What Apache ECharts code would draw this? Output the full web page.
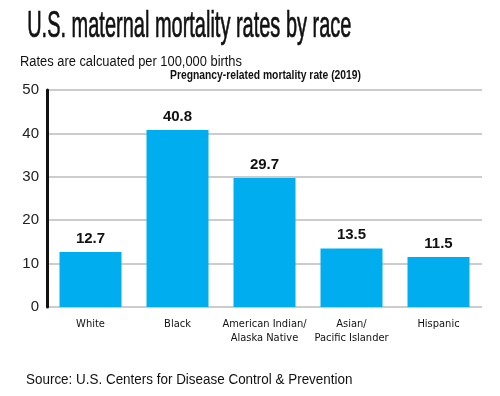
<!DOCTYPE html>
<html>
<head>
<meta charset="utf-8">
<script src="https://cdn.jsdelivr.net/npm/echarts@6/dist/echarts.min.js"></script>
<style>
  html, body { margin: 0; padding: 0; background: #fff; }
  #chart { width: 500px; height: 396px; }
</style>
</head>
<body>
<div id="chart"></div>
<script>
const categories = ['White', 'Black', 'American Indian/\nAlaska Native', 'Asian/\nPacific Islander', 'Hispanic']
const rates = [12.7, 40.8, 29.7, 13.5, 11.5]
const yTicks = [0, 10, 20, 30, 40, 50]

const narrow = '"DejaVu Sans Condensed", "Liberation Sans", sans-serif'
const myChart = echarts.init(document.getElementById('chart'))

const option = {
  backgroundColor: '#fff',
  animation: false,
  graphic: [
    {
      type: 'text', left: 27, top: 9, scaleX: 0.555,
      style: { text: 'U.S. maternal mortality rates by race', font: '36px "Liberation Sans"', fill: '#111', stroke: '#111', lineWidth: 0.7 }
    },
    {
      type: 'text', left: 20, top: 55, scaleX: 0.92,
      style: { text: 'Rates are calcuated per 100,000 births', font: '14px "Liberation Sans"', fill: '#111' }
    },
    {
      type: 'text', left: 170, top: 70, scaleX: 0.86,
      style: { text: 'Pregnancy-related mortality rate (2019)', font: 'bold 12px "Liberation Sans"', fill: '#111' }
    },
    {
      type: 'text', left: 26, top: 373, scaleX: 0.96,
      style: { text: 'Source: U.S. Centers for Disease Control & Prevention', font: '14px "Liberation Sans"', fill: '#111' }
    }
  ],
  grid: { left: 47, right: 18, top: 90, bottom: 89 },
  xAxis: {
    type: 'category',
    data: categories,
    axisLine: { show: false },
    axisTick: { show: false },
    axisLabel: {
      interval: 0, margin: 10, color: '#111', lineHeight: 14,
      fontFamily: narrow, fontSize: 11
    }
  },
  yAxis: {
    type: 'value',
    min: yTicks[0], max: yTicks[yTicks.length - 1], interval: 10,
    axisLine: { show: true, lineStyle: { color: '#111', width: 3 } },
    axisTick: { show: false },
    axisLabel: { color: '#222', fontFamily: 'Liberation Sans', fontSize: 15, margin: 8 },
    splitLine: { lineStyle: { color: '#bbb', width: 1.5 } }
  },
  series: [{
    type: 'bar',
    data: rates,
    barWidth: 62,
    itemStyle: { color: '#00aeef' },
    label: {
      show: true, position: 'top', distance: 6, color: '#111',
      fontFamily: 'Liberation Sans', fontWeight: 'bold', fontSize: 15,
      formatter: p => p.value.toFixed(1)
    }
  }]
}
myChart.setOption(option)
</script>
</body>
</html>
